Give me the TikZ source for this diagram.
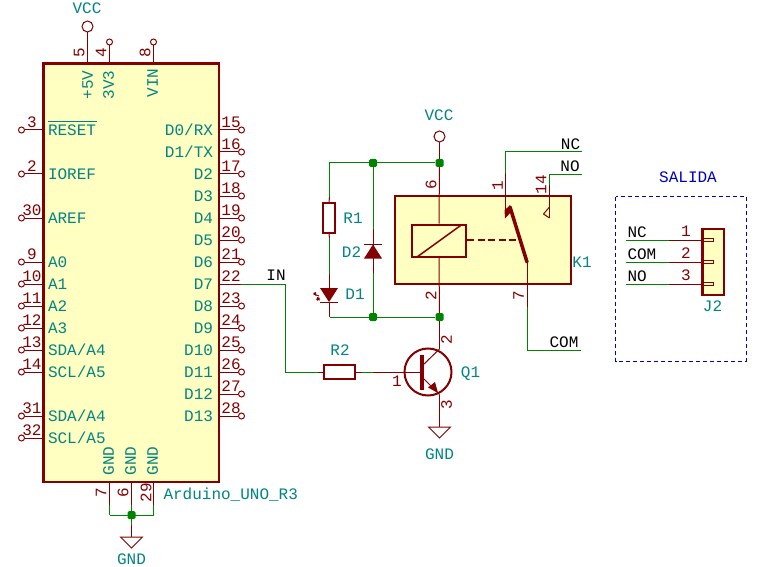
\documentclass[tikz,border=0pt]{standalone}
\usepackage{fontspec}
\setmainfont{Liberation Mono}
\definecolor{kred}{HTML}{840000}
\definecolor{kgreen}{HTML}{008400}
\definecolor{kteal}{HTML}{008484}
\definecolor{kyel}{HTML}{FFFFC2}
\definecolor{kblue}{HTML}{0000C2}
\tikzset{
  txt/.style={inner sep=0pt,outer sep=0pt,text height=10.5pt,text depth=0pt,font=\fontsize{16}{16}\selectfont},
  tl/.style={txt,text=kteal},
  nl/.style={txt,text=kred},
  bl/.style={txt,text=black},
  wire/.style={draw=kgreen,line width=1pt},
  pin/.style={draw=kred,line width=1pt},
  body/.style={draw=kred,fill=kyel,line width=2.5pt},
  part/.style={draw=kred,line width=2pt},
  open/.style={circle,draw=kred,fill=white,line width=1pt,inner sep=0pt,minimum size=6pt},
  pwr/.style={circle,draw=kred,fill=white,line width=1pt,inner sep=0pt,minimum size=11pt},
  jn/.style={rectangle,rounded corners=1.5pt,fill=kgreen,inner sep=0pt,minimum size=8pt},
  gnds/.style={draw=kred,line width=1pt},
}
\begin{document}
\begin{tikzpicture}[x=1pt,y=-1pt]
\useasboundingbox (0,0) rectangle (758,567);
% ---------- wires ----------
\coordinate (in1) at (241,284);
\coordinate (in2) at (285.5,284);
\coordinate (in3) at (285.5,372);
\coordinate (r2l) at (318,372);
\coordinate (r2r) at (361.5,372);
\coordinate (qb) at (373,372);
\draw[wire] (in1)--(in2)--(in3)--(r2l);
\draw[wire] (r2r)--(qb);
\node[jn] (j1) at (439.5,163) {};
\node[jn] (j2) at (373,163) {};
\node[jn] (j3) at (373,317) {};
\node[jn] (j4) at (439.5,317) {};
\node[jn] (j5) at (131.5,515) {};
\coordinate (c1) at (329.5,163);
\coordinate (c2) at (329.5,317);
\draw[wire] (j1)--(j2)--(c1)--(329.5,197);
\draw[wire] (329.5,238)--(329.5,274);
\draw[wire] (j2)--(j3);
\draw[wire] (c2)--(j3)--(j4);
\draw[wire] (109.5,515)--(153.5,515);
\draw[wire] (109.5,505)--(109.5,515);
\draw[wire] (153.5,505)--(153.5,515);
\draw[wire] (131.5,505)--(j5)--(131.5,525);
% relay output wires
\coordinate (nc1) at (505.5,173);
\coordinate (nc2) at (505.5,152);
\coordinate (nc3) at (582,152);
\coordinate (no1) at (549.5,185);
\coordinate (no2) at (549.5,174.5);
\coordinate (no3) at (582,174.5);
\coordinate (com1) at (527.5,307);
\coordinate (com2) at (527.5,350);
\coordinate (com3) at (581,350);
\draw[wire] (nc1)--(nc2)--(nc3);
\draw[wire] (no1)--(no2)--(no3);
\draw[wire] (com1)--(com2)--(com3);
\node[bl] (lnc) at (570.5,144.5) {NC};
\node[bl] (lno) at (570,166) {NO};
\node[bl] (lcom) at (564,342) {COM};
\node[bl] (lin) at (276,275.5) {IN};
% ---------- Arduino ----------
\draw[body] (43.3,63.5) rectangle (219,482);
\coordinate (ard) at (43.3,63.5);
\foreach \n/\t/\y in {3/RESET/130,2/IOREF/174,30/AREF/218,9/A0/262,10/A1/284,11/A2/306,12/A3/328,13/{SDA/A4}/350,14/{SCL/A5}/372,31/{SDA/A4}/416,32/{SCL/A5}/438}{
  \node[open] (pL\n) at (21.5,\y) {};
  \coordinate (uL\n) at (43,\y);
  \draw[pin] (pL\n)--(uL\n);
  \node[nl] (nL\n) at (32,\y-7.5) {\n};
  \node[tl,anchor=west] (tL\n) at (48,\y) {\t};
}
\draw[draw=kteal,line width=1pt] (48,121.5)--(97,121.5);
\foreach \n/\t/\y in {15/D0{/}RX/130,16/D1{/}TX/152,17/D2/174,18/D3/196,19/D4/218,20/D5/240,21/D6/262,23/D8/306,24/D9/328,25/D10/350,26/D11/372,27/D12/394,28/D13/416}{
  \node[open] (pR\n) at (241.5,\y) {};
  \coordinate (uR\n) at (219,\y);
  \draw[pin] (uR\n)--(pR\n);
  \node[nl] (nR\n) at (231,\y-7.5) {\n};
  \node[tl,anchor=east] (tR\n) at (213,\y) {\t};
}
\coordinate (uR22) at (219,284);
\draw[pin] (uR22)--(in1);
\node[nl] (nR22) at (231,276.5) {22};
\node[tl,anchor=east] (tR22) at (213,284) {D7};
% top pins
\node[pwr] (vcc1) at (87.5,26.5) {};
\coordinate (u5) at (87.5,63);
\draw[pin] (vcc1)--(u5);
\node[tl] (lvcc1) at (87,8) {VCC};
\node[open] (p4) at (109.5,42) {};
\coordinate (u4) at (109.5,63);
\draw[pin] (p4)--(u4);
\node[open] (p8) at (153.5,42) {};
\coordinate (u8) at (153.5,63);
\draw[pin] (p8)--(u8);
\node[nl,rotate=90] (n5) at (79,53) {5};
\node[nl,rotate=90] (n4) at (101,53) {4};
\node[nl,rotate=90] (n8) at (145,53) {8};
\node[tl,rotate=90] (t5) at (87.5,85) {+5V};
\node[tl,rotate=90] (t4) at (108.5,85) {3V3};
\node[tl,rotate=90] (t8) at (152.5,83) {VIN};
% bottom pins
\foreach \n/\x/\nx in {7/109.5/101,6/131.5/123,29/153.5/146}{
  \coordinate (uB\n) at (\x,482);
  \coordinate (eB\n) at (\x,505);
  \draw[pin] (uB\n)--(eB\n);
  \node[nl,rotate=90] (nB\n) at (\nx,492.5) {\n};
  \node[tl,rotate=90] (tB\n) at (\x-1,461) {GND};
}
\node[tl,anchor=west] (lard) at (163.5,494) {Arduino\_UNO\_R3};
% GND 1
\coordinate (g1) at (131.5,537);
\draw[pin] (131.5,525)--(g1);
\draw[gnds] (120.5,537)--(142.5,537)--(131.5,548)--cycle;
\node[tl] (lg1) at (131.5,559) {GND};
% ---------- R1, D1, D2 ----------
\node[pwr] (vcc2) at (439.5,136.5) {};
\node[tl] (lvcc2) at (439,115) {VCC};
\node[rectangle,draw=kred,line width=2pt,minimum width=12pt,minimum height=30pt,inner sep=0pt] (R1) at (329,218) {};
\draw[pin] (329.5,197)--(R1.north);
\draw[pin] (R1.south)--(329.5,238);
\node[tl] (lR1) at (353,218) {R1};
% D1
\draw[pin] (329.5,274)--(329.5,288);
\draw[pin] (329.5,302)--(c2);
\fill[kred] (320,288)--(338,288)--(329,302)--cycle;
\draw[draw=kred,line width=1.5pt] (320,302.5)--(338,302.5);
\draw[draw=kred,line width=1pt] (313.5,294)--(319,296);
\fill[kred] (313,293)--(316,292)--(316,296)--cycle;
\draw[draw=kred,line width=1pt] (316,299)--(320,300);
\fill[kred] (317,297)--(320,298)--(317,301)--cycle;
\node[tl] (lD1) at (355,294.5) {D1};
% D2
\draw[pin] (373,229)--(373,273);
\fill[kred] (364,258.5)--(382,258.5)--(373,244.5)--cycle;
\draw[draw=kred,line width=1.5pt] (364,244.5)--(382,244.5);
\node[tl] (lD2) at (351.5,252) {D2};
% ---------- relay ----------
\draw[body] (395,196)rectangle(571,284);
\node[draw=kred,line width=2pt,minimum width=54pt,minimum height=32pt,inner sep=0pt] (coil) at (439,240.5) {};
\draw[pin] (vcc2)--(j1);
\draw[pin] (j1)--(coil.north);
\draw[pin] (coil.south)--(j4);
\draw[draw=kred,line width=1.5pt] (417,257)--(462,224.5);
\draw[draw=kred,line width=2.5pt,dash pattern=on 7pt off 3.5pt] (467,240)--(518,240);
\draw[draw=kred,line width=3.5pt,line cap=round] (510,207)--(527,262);
\draw[pin] (nc1)--(505.5,218);
\fill[kred] (505,218.5)--(504.5,210)--(510,205.5)--(512,211)--cycle;
\draw[pin] (no1)--(549.5,218);
\draw[pin] (549.5,207)--(543.5,214)--(549.5,218);
\draw[pin] (527.5,262)--(com1);
\node[nl,rotate=90] (n6) at (431,185) {6};
\node[nl,rotate=90] (n2k) at (431,295.5) {2};
\node[nl,rotate=90] (n1k) at (497.5,186) {1};
\node[nl,rotate=90] (n14) at (541,184.5) {14};
\node[nl,rotate=90] (n7) at (518.5,295.5) {7};
\node[tl] (lK1) at (582,262) {K1};
% ---------- R2, Q1 ----------
\node[rectangle,draw=kred,line width=2pt,minimum width=31pt,minimum height=14pt,inner sep=0pt] (R2) at (339.5,372) {};
\draw[pin] (r2l)--(R2.west);
\draw[pin] (R2.east)--(r2r);
\node[tl] (lR2) at (340,350) {R2};
\node[circle,draw=kred,line width=2pt,minimum size=47pt,inner sep=0pt] (Q1) at (428,372) {};
\draw[pin] (qb)--(422,372);
\draw[draw=kred,line width=3.5pt] (422,355)--(422,390);
\draw[pin] (423,365)--(439.5,349);
\draw[pin] (423,378)--(439.5,394.5);
\fill[kred] (428,387.5)--(435,382)--(438,393)--cycle;
\draw[pin] (j4)--(439.5,349);
\coordinate (g2) at (439.5,427);
\draw[pin] (439.5,394.5)--(g2);
\draw[gnds] (428.5,427)--(450.5,427)--(439.5,438)--cycle;
\node[tl] (lg2) at (439.5,454) {GND};
\node[nl,rotate=90] (n2q) at (446.5,340) {2};
\node[nl,rotate=90] (n3q) at (446.5,405) {3};
\node[nl] (n1q) at (397,381) {1};
\node[tl] (lQ1) at (470.5,372) {Q1};
% ---------- J2 and SALIDA ----------
\draw[draw=kblue,line width=1pt,dash pattern=on 4pt off 3pt] (615.5,196.5) rectangle (746,361);
\node[txt,text=kblue] (lsal) at (688,177) {SALIDA};
\draw[body] (702.5,229)rectangle(724,295);
\foreach \n/\t/\y in {1/NC/240, 2/COM/262, 3/NO/284}{
  \coordinate (a\n) at (626,\y);
  \coordinate (b\n) at (669,\y);
  \coordinate (c\n) at (702,\y);
  \draw[wire] (a\n)--(b\n);
  \draw[pin] (b\n)--(c\n);
  \draw[draw=kred,line width=.8pt] (702,\y-1.2) rectangle (713.5,\y+1.2);
  \node[nl] (nj\n) at (686,\y-8.5) {\n};
  \node[bl,anchor=west] (lj\n) at (627.5,\y-8) {\t};
}
\node[tl] (lJ2) at (712.5,306.5) {J2};
\end{tikzpicture}
\end{document}
